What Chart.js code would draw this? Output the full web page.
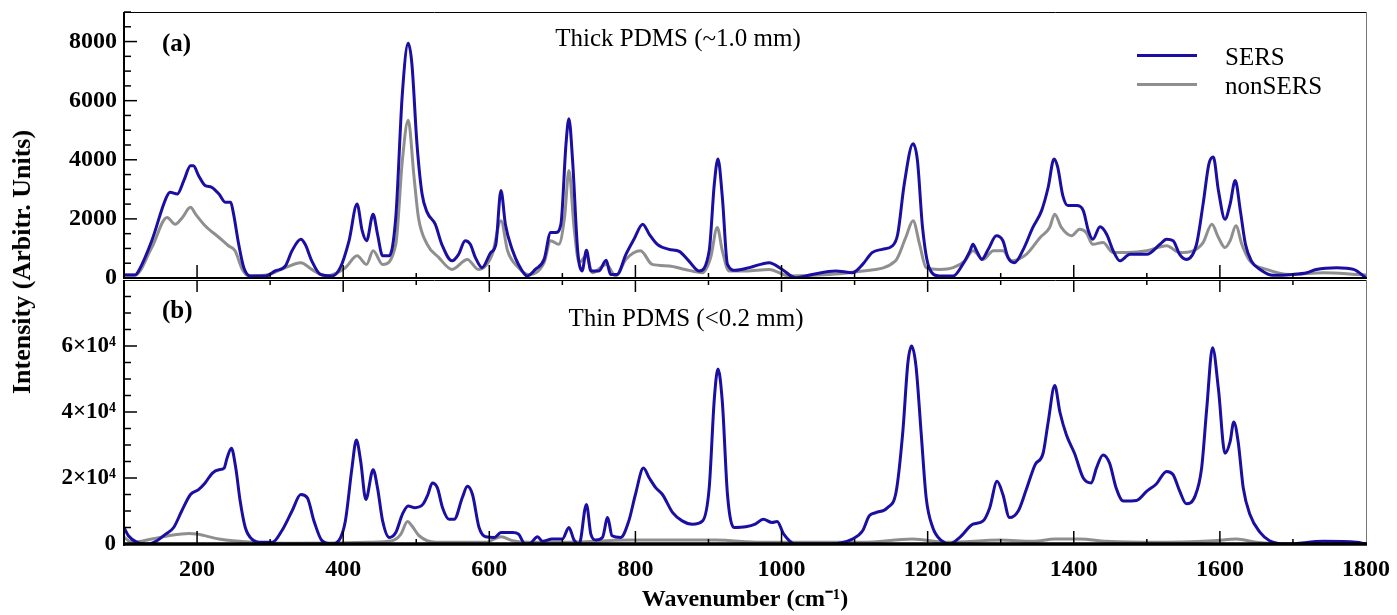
<!DOCTYPE html>
<html>
<head>
<meta charset="utf-8">
<script src="https://cdn.jsdelivr.net/npm/chart.js@4.4.1/dist/chart.umd.min.js"></script>
<style>
  body { margin: 0; background: #fff; }
  #wrap { position: relative; width: 1397px; height: 615px; font-family: "Liberation Serif", "Times New Roman", serif; color: #000; }
  canvas { position: absolute; left: 0; }
  .txt { position: absolute; white-space: nowrap; line-height: 1; }
  .yTitle { left: 22px; top: 262px; font-weight: bold; font-size: 26px; transform: translate(-50%, -50%) rotate(-90deg); }
  .tag { font-weight: bold; font-size: 25px; }
  .panelTitle { font-size: 25px; transform: translate(-50%, -50%); }
  .legLine { position: absolute; left: 1137px; width: 60px; height: 3px; }
  .legText { font-size: 25px; left: 1225px; transform: translateY(-50%); }
</style>
</head>
<body>
<div id="wrap">
  <canvas id="topChart" width="1397" height="300" style="top:0"></canvas>
  <canvas id="bottomChart" width="1397" height="335" style="top:280px"></canvas>

  <div class="txt yTitle">Intensity (Arbitr. Units)</div>
  <div class="txt tag" style="left:162px;top:30px">(a)</div>
  <div class="txt tag" style="left:162px;top:297px">(b)</div>
  <div class="txt panelTitle" style="left:678px;top:37px">Thick PDMS (~1.0 mm)</div>
  <div class="txt panelTitle" style="left:686px;top:317px">Thin PDMS (&lt;0.2 mm)</div>

  <div class="legLine" style="top:54px;background:#1b0fa3"></div>
  <div class="txt legText" style="top:56px">SERS</div>
  <div class="legLine" style="top:83px;background:#8f8f8f"></div>
  <div class="txt legText" style="top:85px">nonSERS</div>
</div>

<script>
// (a) thick PDMS - SERS
const topSersWn = [
  100,115,120,138,157,163,173,182,191,195,
  202,211,220,230,239,246,250,257,264,273,
  294,307,321,330,342,348,357,369,385,396,
  408,419,426,432,441,447,454,463,472,481,
  489,494,501,508,515,526,535,549,558,567,
  574,581,590,602,609,616,622,632,640,652,
  663,675,684,691,698,705,709,714,721,727,
  733,739,750,760,766,775,787,798,810,819,
  830,846,860,873,887,901,908,913,919,926,
  937,956,983,1001,1019,1042,1074,1097,1111,1124,
  1138,1152,1159,1168,1180,1186,1193,1202,1216,1235,
  1248,1258,1262,1267,1274,1283,1294,1303,1310,1319,
  1331,1344,1356,1365,1373,1378,1385,1392,1404,1413,
  1420,1426,1436,1445,1454,1463,1477,1500,1518,1527,
  1536,1545,1554,1568,1577,1585,1591,1598,1607,1614,
  1621,1628,1635,1643,1655,1673,1700,1719,1732,1760,
  1783,1800
];
const topSersVal = [
  100,100,240,1260,2670,2900,2840,3300,3800,3800,
  3470,3130,3070,2840,2560,2560,2160,1140,350,70,
  70,240,410,920,1310,1140,580,120,70,350,
  1260,2500,1600,1260,2160,1480,750,750,2050,6240,
  7940,7260,4540,2840,2220,1820,1140,580,800,1260,
  1140,690,350,860,1140,2960,1820,920,460,70,
  290,630,1540,1540,1820,4540,5390,3980,920,240,
  940,240,240,600,120,120,800,1310,1820,1480,
  1140,970,900,580,240,920,3180,4030,2730,460,
  260,350,520,290,10,120,240,180,460,860,
  970,1090,1480,3180,4540,3980,1710,350,70,70,
  460,920,1140,920,630,970,1430,1260,690,520,
  970,1710,2280,3070,4030,3750,2790,2450,2450,2280,
  1600,1310,1730,1480,920,580,800,800,1140,1310,
  1260,800,630,1140,2500,3860,4090,2960,1990,2500,
  3300,2280,1140,580,290,90,120,180,290,350,
  290,10
];

// (a) thick PDMS - nonSERS
const topNonWn = [
  100,115,138,159,170,180,191,198,211,230,
  243,252,262,271,298,321,342,357,376,403,
  419,432,441,454,472,481,489,497,503,515,
  531,549,570,585,604,616,625,640,654,675,
  684,695,703,709,716,723,733,741,760,773,
  787,807,823,846,868,892,903,912,919,928,
  951,983,1010,1065,1111,1156,1170,1180,1189,1198,
  1216,1235,1251,1262,1276,1290,1303,1315,1335,1354,
  1367,1374,1383,1397,1408,1417,1426,1440,1454,1473,
  1500,1527,1545,1563,1577,1589,1598,1607,1614,1622,
  1630,1641,1664,1696,1742,1787,1800
];
const topNonVal = [
  100,100,1030,2050,1820,2050,2390,2160,1770,1370,
  1090,920,290,70,120,350,520,290,70,350,
  750,460,920,460,1140,3980,5340,3410,2050,1140,
  690,290,630,290,800,1940,920,350,120,520,
  1260,1140,2050,3640,1710,520,750,180,460,70,
  630,920,460,410,290,180,690,1710,920,240,
  240,290,70,120,240,580,1370,1940,1140,350,
  290,350,580,920,630,920,920,580,800,1370,
  1710,2160,1710,1430,1650,1540,1140,1200,860,860,
  920,1090,860,920,1200,1820,1370,1030,1260,1770,
  1140,580,290,120,180,120,100
];

// (b) thin PDMS - SERS
const botSersWn = [
  100,106,118,134,145,157,168,179,191,202,
  211,221,230,237,241,247,253,259,266,275,
  289,303,316,330,342,351,360,371,385,394,
  403,412,418,424,431,441,447,454,463,472,
  481,489,498,509,516,522,529,536,545,552,
  563,570,577,586,595,607,616,632,640,649,
  656,666,673,686,700,709,716,723,733,739,
  746,755,762,768,780,791,800,811,819,828,
  837,851,864,878,892,901,908,913,919,926,
  935,951,964,975,987,994,1003,1019,1065,1097,
  1111,1120,1129,1145,1157,1166,1173,1178,1184,1191,
  1198,1207,1219,1230,1244,1262,1276,1285,1295,1303,
  1312,1324,1335,1347,1358,1365,1374,1381,1390,1401,
  1413,1424,1431,1440,1449,1458,1468,1486,1500,1513,
  1527,1536,1545,1554,1566,1575,1582,1590,1598,1607,
  1614,1619,1625,1632,1641,1655,1668,1691,1742,1787,
  1800
];
const botSersVal = [
  5000,2500,500,0,1000,3000,5000,10000,15000,16500,
  18500,21500,22500,23000,26000,29000,23000,13000,5000,1500,
  500,500,4000,10000,15000,14000,7000,1000,0,1000,
  7000,23000,31500,25000,13500,22500,17000,7000,2000,3500,
  9000,11500,11000,12000,15000,18500,17000,11000,7500,7500,
  14000,17500,15000,5000,2200,2000,3500,3500,3000,0,
  200,2200,800,1500,1500,5000,1200,0,12000,3000,
  1200,2000,8000,2500,2000,7000,15000,23000,20000,17000,
  15000,9500,7000,6000,7000,17000,44000,53000,43000,15000,
  5000,5200,6000,7500,6500,6800,3000,0,0,1500,
  4000,8500,9500,11000,16000,34000,55000,60000,54000,34000,
  14000,5000,1000,0,2000,6000,7000,11000,19000,15000,
  8000,10000,16500,24000,27500,37000,48000,40000,33000,27500,
  20000,18500,23000,27000,24500,17000,13000,13200,16000,18200,
  22000,21000,16000,12200,14500,23000,41000,59500,47000,27500,
  31000,37000,31000,17000,9000,3500,1000,0,800,500,
  0
];

// (b) thin PDMS - nonSERS
const botNonWn = [
  100,111,138,161,189,200,230,275,321,389,
  435,467,479,488,494,504,527,595,616,632,
  654,700,791,910,972,1111,1179,1228,1299,1344,
  1374,1408,1445,1513,1591,1623,1650,1696,1800
];
const botNonVal = [
  2000,500,1500,2500,3200,3000,1500,500,200,300,
  500,1000,3000,6800,5500,2500,500,500,2200,1000,
  500,500,1200,1200,500,500,1500,500,1200,800,
  1500,1500,800,500,1000,1500,500,0,0
];

// axes
const xTickValues = [200, 400, 600, 800, 1000, 1200, 1400, 1600, 1800];
const topTickValues = [0, 2000, 4000, 6000, 8000];
const bottomTickValues = [0, 20000, 40000, 60000];
const bottomTickLabels = ["0", "2×10⁴", "4×10⁴", "6×10⁴"];

const blue = "#1b0fa3";
const grey = "#8f8f8f";

function toPoints(wn, val) {
    const n = Math.min(wn.length, val.length);
    const pts = [];
    for (let i = 0; i < n; i++) {
        pts.push({ x: wn[i], y: val[i] });
    }
    return pts;
}

function lineSet(label, pts, color) {
    return {
        label: label,
        data: pts,
        borderColor: color,
        borderWidth: 3,
        pointRadius: 0,
        cubicInterpolationMode: "monotone",
        fill: false
    };
}

// no extra room for edge labels: plot box is fixed by layout padding
function fixedWidth(s) {
    s.width = 124;
    s.paddingTop = 0;
    s.paddingBottom = 0;
}

// frame + inward tick marks, placed through the chart's own scales
const panelFrame = {
    id: "panelFrame",
    afterDatasetsDraw(chart, args, opts) {
        const { ctx, chartArea: a, scales } = chart;
        const x = scales.x, y = scales.y;
        ctx.save();
        ctx.lineCap = "butt";

        // top / right / left / bottom borders
        ctx.strokeStyle = "#000";
        ctx.lineWidth = 1;
        ctx.beginPath();
        ctx.moveTo(a.left, a.top + 0.5);
        ctx.lineTo(a.right, a.top + 0.5);
        ctx.stroke();

        ctx.strokeStyle = "#777";
        ctx.beginPath();
        ctx.moveTo(a.right + 0.5, a.top);
        ctx.lineTo(a.right + 0.5, a.bottom);
        ctx.stroke();

        ctx.strokeStyle = "#000";
        ctx.lineWidth = 2;
        ctx.beginPath();
        ctx.moveTo(a.left, a.top);
        ctx.lineTo(a.left, a.bottom + opts.bottomWidth / 2);
        ctx.stroke();

        ctx.lineWidth = opts.bottomWidth;
        ctx.beginPath();
        ctx.moveTo(a.left - 1, a.bottom);
        ctx.lineTo(a.right + 1, a.bottom);
        ctx.stroke();

        // y ticks (inward from left axis)
        ctx.lineWidth = 1.5;
        for (let v = 0; v <= y.max; v += opts.yMinor) {
            const py = y.getPixelForValue(v);
            const len = v % opts.yMajor === 0 ? 13 : 7;
            ctx.beginPath();
            ctx.moveTo(a.left, py);
            ctx.lineTo(a.left + len, py);
            ctx.stroke();
        }

        // x ticks (inward from bottom, optionally from top)
        for (let v = 200; v < 1800; v += 100) {
            const px = x.getPixelForValue(v);
            const major = v % 200 === 0;
            ctx.beginPath();
            ctx.moveTo(px, a.bottom);
            ctx.lineTo(px, a.bottom - (major ? 13 : 5));
            ctx.stroke();
            if (opts.topTicks) {
                ctx.beginPath();
                ctx.moveTo(px, a.top);
                ctx.lineTo(px, a.top + (major ? 12 : 5));
                ctx.stroke();
            }
        }
        ctx.restore();
    }
};

const tickFont = { family: "'Liberation Serif', serif", size: 24, weight: "bold" };

// Top panel
new Chart(document.getElementById("topChart"), {
    type: "line",
    data: {
        datasets: [
            lineSet("SERS", toPoints(topSersWn, topSersVal), blue),
            lineSet("nonSERS", toPoints(topNonWn, topNonVal), grey)
        ]
    },
    options: {
        responsive: false,
        animation: false,
        devicePixelRatio: 1,
        layout: { padding: { left: 0, top: 12, right: 31, bottom: 22 } },
        plugins: {
            legend: { display: false },
            tooltip: { enabled: false },
            panelFrame: { yMinor: 500, yMajor: 2000, bottomWidth: 2, topTicks: false }
        },
        scales: {
            x: { type: "linear", min: 100, max: 1800, display: false },
            y: {
                min: 0,
                max: 9000,
                afterFit: fixedWidth,
                afterBuildTicks: (s) => { s.ticks = topTickValues.map(v => ({ value: v })); },
                ticks: { font: tickFont, color: "#000", padding: 7, callback: (v) => String(v) },
                grid: { display: false, drawTicks: false },
                border: { display: false }
            }
        }
    },
    plugins: [panelFrame]
});

// Bottom panel
new Chart(document.getElementById("bottomChart"), {
    type: "line",
    data: {
        datasets: [
            lineSet("SERS", toPoints(botSersWn, botSersVal), blue),
            lineSet("nonSERS", toPoints(botNonWn, botNonVal), grey)
        ]
    },
    options: {
        responsive: false,
        animation: false,
        devicePixelRatio: 1,
        layout: { padding: { left: 0, top: 0, right: 31, bottom: 0 } },
        plugins: {
            legend: { display: false },
            tooltip: { enabled: false },
            panelFrame: { yMinor: 5000, yMajor: 20000, bottomWidth: 3.5, topTicks: true }
        },
        scales: {
            x: {
                type: "linear",
                min: 100,
                max: 1800,
                afterFit: (s) => { s.height = 71; s.paddingLeft = 0; s.paddingRight = 0; },
                afterBuildTicks: (s) => { s.ticks = xTickValues.map(v => ({ value: v })); },
                ticks: { font: tickFont, color: "#000", padding: 11, maxRotation: 0, callback: (v) => String(v) },
                grid: { display: false, drawTicks: false },
                border: { display: false },
                title: {
                    display: true,
                    text: "Wavenumber (cm⁻¹)",
                    font: tickFont,
                    color: "#000",
                    padding: { top: 0, bottom: 1 }
                }
            },
            y: {
                min: 0,
                max: 80000,
                afterFit: fixedWidth,
                afterBuildTicks: (s) => { s.ticks = bottomTickValues.map(v => ({ value: v })); },
                ticks: {
                    font: { family: "'Liberation Serif', serif", size: 23, weight: "bold" },
                    color: "#000",
                    padding: 8,
                    callback: (v, i) => bottomTickLabels[i]
                },
                grid: { display: false, drawTicks: false },
                border: { display: false }
            }
        }
    },
    plugins: [panelFrame]
});
</script>
</body>
</html>
